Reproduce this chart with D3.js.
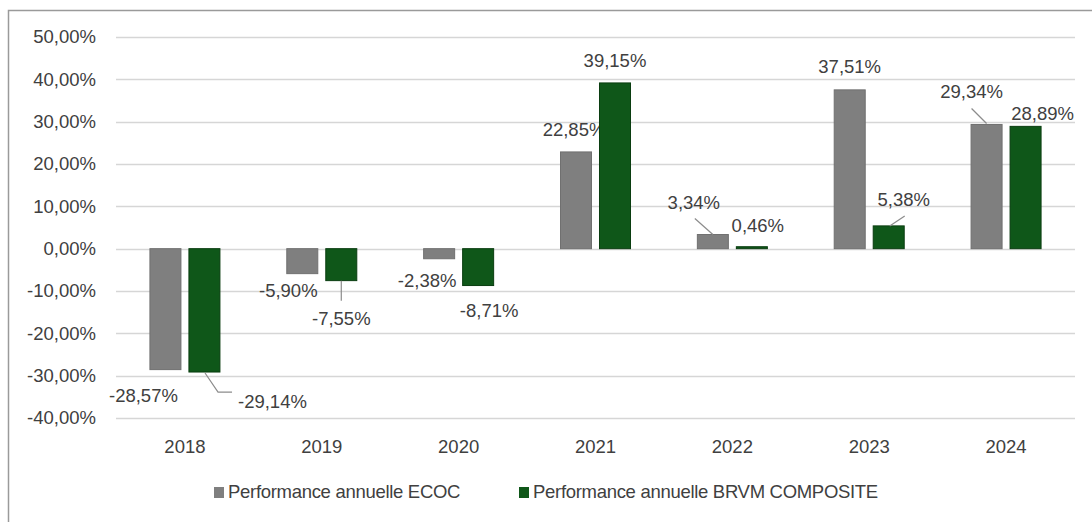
<!DOCTYPE html>
<html>
<head>
<meta charset="utf-8">
<script src="https://cdn.jsdelivr.net/npm/d3@7"></script>
<style>
  body { margin: 0; background: #fff; }
  svg { display: block; }
  text { font-family: "Liberation Sans", Arial, sans-serif; fill: #404040; }
</style>
</head>
<body>
<script>
var years = ["2018", "2019", "2020", "2021", "2022", "2023", "2024"];
var seriesNames = ["Performance annuelle ECOC", "Performance annuelle BRVM COMPOSITE"];
var ecoc = [-28.57, -5.90, -2.38, 22.85, 3.34, 37.51, 29.34];
var brvm = [-29.14, -7.55, -8.71, 39.15, 0.46, 5.38, 28.89];
var yTicks = [-40, -30, -20, -10, 0, 10, 20, 30, 40, 50];

// where each value label sits, relative to the end of its bar (px)
var ecocLabelPos = [[-22, 26], [-14, 17], [-12, 22], [-2, -22], [-19, -32], [0, -23], [-15, -33]];
var brvmLabelPos = [[68, 29], [0, 38], [11, 25], [0, -22], [6, -21], [15, -26], [17, -13]];
// leader lines, same reference point
var ecocLeaders = [null, null, null, null, [[0, 0], [-18, -16]], null, [[0, -1], [-15, -16]]];
var brvmLeaders = [[[0.6, 1], [13.6, 20], [27.6, 20]], [[0, 0], [0, 20]], null, null, null, [[1, 0], [16, -10]], null];

var width = 1092;
var height = 522;
var colors = ["#7f7f7f", "#0f5719"];
var strokes = ["#707070", "#0a3d10"];

var loc = d3.formatLocale({ decimal: ",", thousands: " ", grouping: [3], currency: ["", ""], minus: "-" });
var fmt = loc.format(".2f");

var svg = d3.select("body").append("svg")
    .attr("width", width)
    .attr("height", height);

// frame
svg.append("rect")
    .attr("x", 8.5).attr("y", 10.5)
    .attr("width", 1200).attr("height", 600)
    .attr("fill", "none")
    .attr("stroke", "#9a9a9a")
    .attr("stroke-width", 1.5);

var x = d3.scaleBand()
    .domain(years)
    .range([116.5, 1074.5]);

var x1 = d3.scaleBand()
    .domain([0, 1])
    .range([-35, 35])
    .paddingInner(0.205);

var y = d3.scaleLinear()
    .domain([-40, 50])
    .range([418, 37]);

// grid
svg.append("g").selectAll("line")
    .data(yTicks)
    .enter().append("line")
    .attr("x1", 116).attr("x2", 1075)
    .attr("y1", d => Math.round(y(d)) + 0.5)
    .attr("y2", d => Math.round(y(d)) + 0.5)
    .attr("stroke", "#d6d6d6")
    .attr("stroke-width", 1.3);

// y labels
svg.append("g").selectAll("text")
    .data(yTicks)
    .enter().append("text")
    .attr("x", 96)
    .attr("y", d => y(d))
    .attr("dy", "0.35em")
    .attr("text-anchor", "end")
    .style("font-size", "18.5px")
    .text(d => fmt(d) + "%");

// x labels
svg.append("g").selectAll("text")
    .data(years)
    .enter().append("text")
    .attr("x", d => x(d) + x.bandwidth() / 2)
    .attr("y", 447)
    .attr("dy", "0.35em")
    .attr("text-anchor", "middle")
    .style("font-size", "18.5px")
    .text(d => d);

function drawSeries(vals, s, labelPos, leaders) {
    var g = svg.append("g");
    var rows = vals.map((v, i) => ({ year: years[i], v: v, i: i }));
    g.selectAll("rect")
        .data(rows)
        .enter().append("rect")
        .attr("x", d => x(d.year) + x.bandwidth() / 2 + x1(s))
        .attr("y", d => y(Math.max(0, d.v)))
        .attr("width", x1.bandwidth())
        .attr("height", d => Math.abs(y(d.v) - y(0)))
        .attr("fill", colors[s])
        .attr("stroke", strokes[s])
        .attr("stroke-width", 1);

    var cx = d => x(d.year) + x.bandwidth() / 2 + x1(s) + x1.bandwidth() / 2;

    g.selectAll("path.leader")
        .data(rows.filter(d => leaders[d.i]))
        .enter().append("path")
        .attr("class", "leader")
        .attr("d", d => d3.line()(leaders[d.i].map(p => [cx(d) + p[0], y(d.v) + p[1]])))
        .attr("fill", "none")
        .attr("stroke", "#8c8c8c")
        .attr("stroke-width", 1.2);

    g.selectAll("text")
        .data(rows)
        .enter().append("text")
        .attr("x", d => cx(d) + labelPos[d.i][0])
        .attr("y", d => y(d.v) + labelPos[d.i][1])
        .attr("dy", "0.35em")
        .attr("text-anchor", "middle")
        .style("font-size", "18.5px")
        .text(d => fmt(d.v) + "%");
}

drawSeries(ecoc, 0, ecocLabelPos, ecocLeaders);
drawSeries(brvm, 1, brvmLabelPos, brvmLeaders);

// legend
var legendX = [214, 519];
var lg = svg.append("g");
seriesNames.forEach(function(name, i) {
    lg.append("rect")
        .attr("x", legendX[i]).attr("y", 487)
        .attr("width", 10).attr("height", 11)
        .attr("fill", colors[i]);
    lg.append("text")
        .attr("x", legendX[i] + 14)
        .attr("y", 492)
        .attr("dy", "0.35em")
        .style("font-size", "18.5px")
        .style("letter-spacing", "-0.3px")
        .text(name);
});
</script>
</body>
</html>
